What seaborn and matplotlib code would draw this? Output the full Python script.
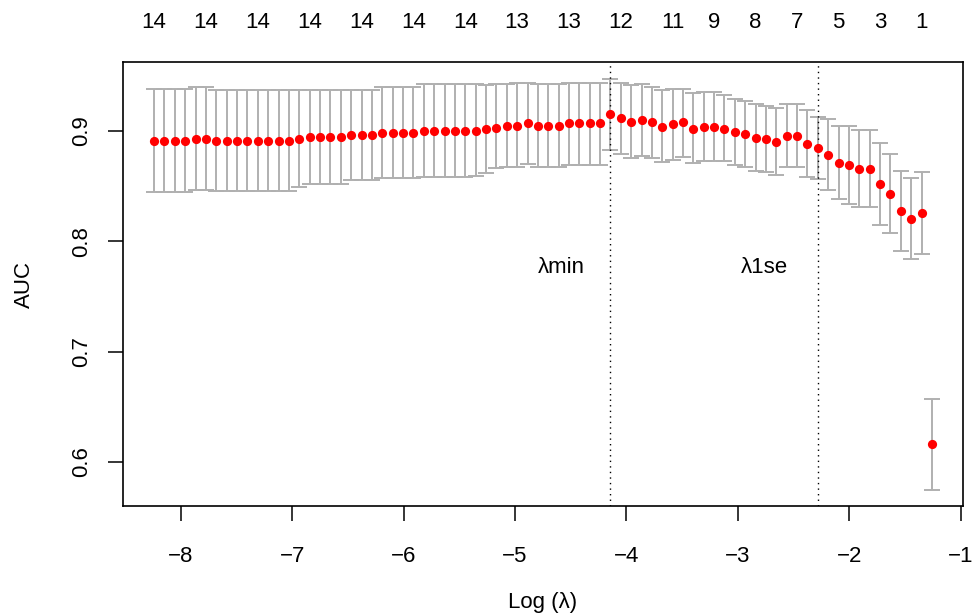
import numpy as np
import pandas as pd
import matplotlib
matplotlib.use("Agg")
import matplotlib.pyplot as plt
import seaborn as sns

# log(lambda) path of the cv fit
log_lambda = [
    -8.240, -8.147, -8.054, -7.961, -7.868, -7.775, -7.681, -7.588, -7.495, -7.402,
    -7.309, -7.216, -7.123, -7.030, -6.937, -6.844, -6.750, -6.657, -6.564, -6.471,
    -6.378, -6.285, -6.192, -6.099, -6.006, -5.913, -5.819, -5.726, -5.633, -5.540,
    -5.447, -5.354, -5.261, -5.168, -5.075, -4.982, -4.888, -4.795, -4.702, -4.609,
    -4.516, -4.423, -4.330, -4.237, -4.144, -4.051, -3.957, -3.864, -3.771, -3.678,
    -3.585, -3.492, -3.399, -3.306, -3.213, -3.120, -3.026, -2.933, -2.840, -2.747,
    -2.654, -2.561, -2.468, -2.375, -2.282, -2.189, -2.095, -2.002, -1.909, -1.816,
    -1.723, -1.630, -1.537, -1.444, -1.351, -1.258]

auc_mean = [
    0.8912, 0.8912, 0.8912, 0.8912, 0.8930, 0.8930, 0.8912, 0.8912, 0.8912, 0.8912,
    0.8912, 0.8912, 0.8912, 0.8912, 0.8930, 0.8948, 0.8948, 0.8948, 0.8948, 0.8966,
    0.8966, 0.8966, 0.8986, 0.8986, 0.8986, 0.8986, 0.9002, 0.9002, 0.9002, 0.9002,
    0.9002, 0.9002, 0.9015, 0.9030, 0.9048, 0.9048, 0.9070, 0.9050, 0.9050, 0.9050,
    0.9070, 0.9070, 0.9070, 0.9070, 0.9152, 0.9118, 0.9082, 0.9098, 0.9082, 0.9041,
    0.9061, 0.9079, 0.9021, 0.9041, 0.9041, 0.9021, 0.8988, 0.8971, 0.8941, 0.8925,
    0.8903, 0.8955, 0.8957, 0.8887, 0.8846, 0.8782, 0.8714, 0.8696, 0.8655, 0.8660,
    0.8522, 0.8433, 0.8277, 0.8206, 0.8256, 0.6160]

auc_upper = [
    0.9381, 0.9381, 0.9381, 0.9381, 0.9397, 0.9397, 0.9375, 0.9375, 0.9375, 0.9375,
    0.9375, 0.9375, 0.9375, 0.9375, 0.9375, 0.9375, 0.9375, 0.9375, 0.9375, 0.9375,
    0.9375, 0.9375, 0.9397, 0.9397, 0.9397, 0.9397, 0.9424, 0.9424, 0.9424, 0.9424,
    0.9424, 0.9424, 0.9415, 0.9424, 0.9424, 0.9438, 0.9438, 0.9429, 0.9429, 0.9429,
    0.9438, 0.9438, 0.9438, 0.9438, 0.9475, 0.9438, 0.9415, 0.9424, 0.9402, 0.9372,
    0.9381, 0.9384, 0.9342, 0.9351, 0.9351, 0.9324, 0.9288, 0.9272, 0.9248, 0.9230,
    0.9209, 0.9245, 0.9245, 0.9191, 0.9130, 0.9106, 0.9048, 0.9048, 0.9006, 0.9006,
    0.8888, 0.8791, 0.8637, 0.8571, 0.8628, 0.6568]

auc_lower = [
    0.8446, 0.8446, 0.8446, 0.8446, 0.8467, 0.8467, 0.8456, 0.8456, 0.8456, 0.8456,
    0.8456, 0.8456, 0.8456, 0.8456, 0.8489, 0.8519, 0.8519, 0.8519, 0.8519, 0.8553,
    0.8553, 0.8553, 0.8571, 0.8571, 0.8571, 0.8571, 0.8580, 0.8580, 0.8580, 0.8580,
    0.8580, 0.8589, 0.8616, 0.8662, 0.8676, 0.8676, 0.8700, 0.8676, 0.8676, 0.8676,
    0.8694, 0.8694, 0.8694, 0.8694, 0.8828, 0.8794, 0.8752, 0.8776, 0.8758, 0.8721,
    0.8737, 0.8767, 0.8707, 0.8730, 0.8730, 0.8730, 0.8691, 0.8676, 0.8640, 0.8625,
    0.8600, 0.8670, 0.8670, 0.8585, 0.8564, 0.8465, 0.8380, 0.8340, 0.8311, 0.8308,
    0.8153, 0.8077, 0.7914, 0.7838, 0.7884, 0.5749]

# number of non-zero coefficients shown on top (index into the path)
top_idx = [0, 5, 10, 15, 20, 25, 30, 35, 40, 45, 50, 54, 58, 62, 66, 70, 74]
top_labels = ["14", "14", "14", "14", "14", "14", "14", "13", "13",
              "12", "11", "9", "8", "7", "5", "3", "1"]

idx_min = 44
idx_1se = 64

df = pd.DataFrame({"log_lambda": log_lambda, "auc": auc_mean,
                   "upper": auc_upper, "lower": auc_lower})

sns.set_style("ticks")
plt.rcParams["font.family"] = ["Liberation Sans", "DejaVu Sans"]
plt.rcParams["text.color"] = "black"
plt.rcParams["axes.labelcolor"] = "black"
plt.rcParams["xtick.color"] = "black"
plt.rcParams["ytick.color"] = "black"
fs = 16

fig = plt.figure(figsize=(9.76, 6.15), dpi=100)
ax = fig.add_axes([0.126, 0.1772, 0.8607, 0.7215])

ax.errorbar(df["log_lambda"], df["auc"],
            yerr=[df["auc"] - df["lower"], df["upper"] - df["auc"]],
            fmt="none", ecolor="#B0B0B0", elinewidth=1.4, capsize=6,
            capthick=1.4, zorder=1)
sns.scatterplot(data=df, x="log_lambda", y="auc", color="red", s=44,
                linewidth=0, ax=ax, zorder=3)

lam_min = df["log_lambda"][idx_min]
lam_1se = df["log_lambda"][idx_1se]
ax.axvline(lam_min, color="black", lw=1, ls=(0, (1, 3)), zorder=2)
ax.axvline(lam_1se, color="black", lw=1, ls=(0, (1, 3)), zorder=2)
ax.text(lam_min - 0.44, 0.7766, "λmin", ha="center", va="center", fontsize=fs)
ax.text(lam_1se - 0.48, 0.7766, "λ1se", ha="center", va="center", fontsize=fs)

# R style 4% padding
xr = df["log_lambda"].max() - df["log_lambda"].min()
ax.set_xlim(df["log_lambda"].min() - 0.04 * xr, df["log_lambda"].max() + 0.04 * xr)
yr = df["upper"].max() - df["lower"].min()
ax.set_ylim(df["lower"].min() - 0.04 * yr, df["upper"].max() + 0.04 * yr)

ax.set_xticks([-8, -7, -6, -5, -4, -3, -2, -1])
ax.set_yticks([0.6, 0.7, 0.8, 0.9])
ax.set_yticklabels(["0.6", "0.7", "0.8", "0.9"], rotation=90, va="center")
ax.tick_params(axis="both", length=10.5, width=1.1, labelsize=fs)
ax.tick_params(axis="x", pad=18)
ax.tick_params(axis="y", pad=12)
ax.set_xlabel("Log (λ)", fontsize=fs, labelpad=18)
ax.set_ylabel("AUC", fontsize=fs, labelpad=26)
for sp in ax.spines.values():
    sp.set_visible(True)
    sp.set_color("black")
    sp.set_linewidth(1.2)

top = ax.secondary_xaxis("top")
top.set_xticks([log_lambda[i] for i in top_idx])
top.set_xticklabels(top_labels)
top.tick_params(length=0, pad=21, labelsize=fs)
top.spines["top"].set_visible(False)

fig.savefig("out.png", dpi=100)
